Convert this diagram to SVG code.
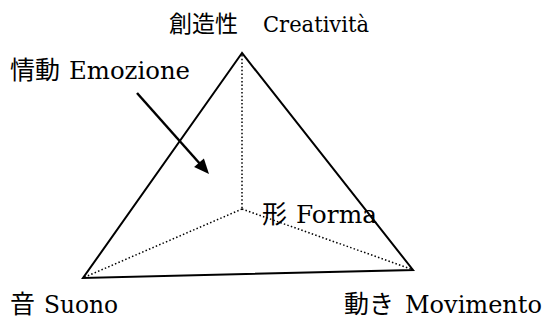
<svg xmlns="http://www.w3.org/2000/svg" width="549" height="322" viewBox="0 0 549 322">
<style>
text{font-family:"DejaVu Serif","Liberation Serif","Noto Sans CJK JP",serif;font-size:24px;fill:#000}
.cjk{font-family:"Noto Sans CJK JP","Liberation Serif",sans-serif;font-size:25px}
.lat{font-family:"DejaVu Serif","Liberation Serif",serif;font-size:24px}
.top .cjk{font-size:23px}
.top .lat{font-size:22.5px}
.solid{fill:none;stroke:#000;stroke-width:2;stroke-linejoin:miter}
.dot{fill:none;stroke:#000;stroke-width:1.5;stroke-dasharray:1.5 2.2}
</style>
<rect width="549" height="322" fill="#fff"/>
<g id="connectors">
<polygon class="solid" points="242,53 83,278 413,270"/>
<line class="dot" x1="242" y1="55" x2="242" y2="209"/>
<line class="dot" x1="242" y1="209" x2="85" y2="277"/>
<line class="dot" x1="242" y1="209" x2="411" y2="269"/>
<line x1="137" y1="93" x2="201" y2="165" stroke="#000" stroke-width="2.5"/>
<polygon points="209,174 194.1,167.1 203.9,158.5" fill="#000"/>
</g>
<g id="creativita" class="top"><text y="32"><tspan class="cjk" x="169">創造性</tspan><tspan class="lat" x="263" textLength="106" lengthAdjust="spacingAndGlyphs">Creatività</tspan></text></g>
<g id="emozione"><text y="79"><tspan class="cjk" x="10">情動</tspan><tspan class="lat" x="69" textLength="121" lengthAdjust="spacingAndGlyphs">Emozione</tspan></text></g>
<g id="forma"><text y="223"><tspan class="cjk" x="262">形</tspan><tspan class="lat" x="296" textLength="81" lengthAdjust="spacingAndGlyphs">Forma</tspan></text></g>
<g id="suono"><text y="313"><tspan class="cjk" x="10">音</tspan><tspan class="lat" x="44" textLength="74" lengthAdjust="spacingAndGlyphs">Suono</tspan></text></g>
<g id="movimento"><text y="313"><tspan class="cjk" x="344">動き</tspan><tspan class="lat" x="405" textLength="137" lengthAdjust="spacingAndGlyphs">Movimento</tspan></text></g>
</svg>
